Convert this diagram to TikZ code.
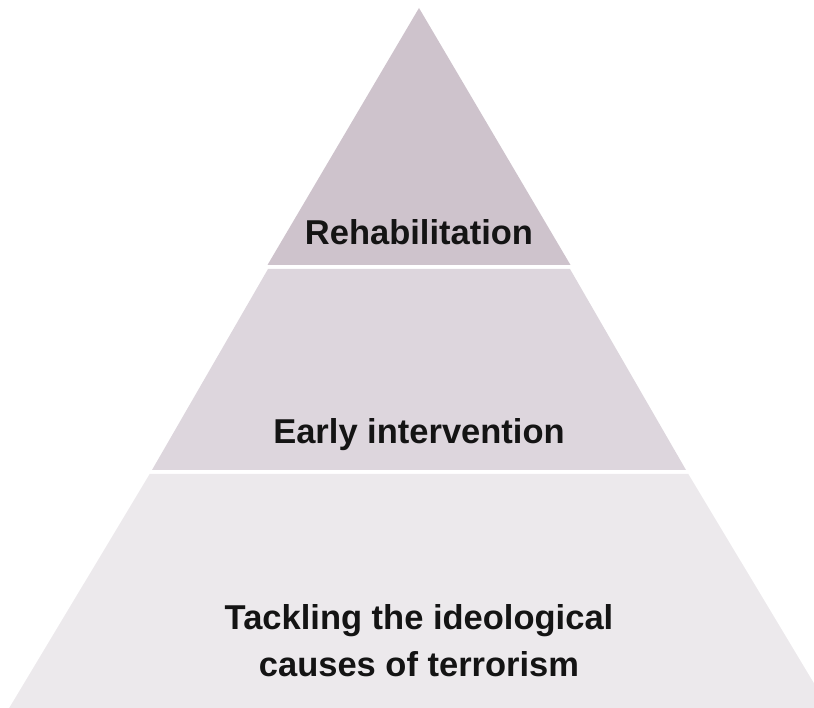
\documentclass[tikz,border=0pt]{standalone}
\usepackage{fontspec}
\setmainfont{Liberation Sans}
\definecolor{tierone}{HTML}{CEC3CC}
\definecolor{tiertwo}{HTML}{DDD6DD}
\definecolor{tierthree}{HTML}{ECE9EC}
\begin{document}
\begin{tikzpicture}[x=1pt,y=1pt,
    label/.style={font=\fontsize{34.5}{47}\selectfont\bfseries, text=black!92, align=center}]
        \useasboundingbox (0,0) rectangle (814,708);
        \clip (0,0) rectangle (814,708);

        % pyramid tiers
        \fill[tierone] (419,700) -- (570.5,443) -- (267.5,443) -- cycle;
        \fill[tiertwo] (570,439) -- (686,238) -- (152,238) -- (268,439) -- cycle;
        \fill[tierthree] (688.3,234) -- (830,-2) -- (8,-2) -- (149.7,234) -- cycle;

        \node[label] (rehab) at (419,476) {Rehabilitation};
        \node[label] (early) at (419,273) {Early intervention};
        \node[label] (tackle) at (419,67) {Tackling the ideological\\causes of terrorism};
      \end{tikzpicture}
\end{document}
